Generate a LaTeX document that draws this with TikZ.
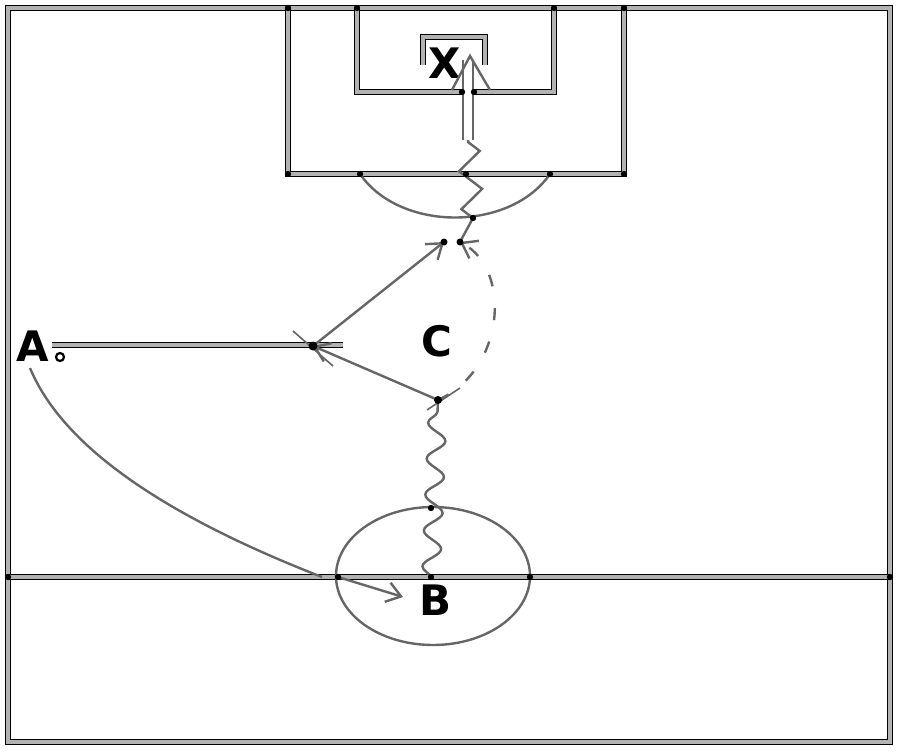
\documentclass[tikz,border=0pt]{standalone}
\usepackage{fontspec}
\setmainfont{DejaVu Sans}
\usetikzlibrary{arrows.meta,decorations.pathmorphing}
\begin{document}
\begin{tikzpicture}[x=1pt,y=-1pt,
 fieldline/.style={draw=black, line width=1.1pt, double=gray!60, double distance=3.4pt},
 shotline/.style={draw=black!60, line width=2.4pt, double=white, double distance=8pt},
 runline/.style={draw=black!60, line width=2.4pt},
 lbl/.style={font=\fontsize{42}{42}\selectfont\bfseries, inner sep=0pt},
 tipbarb/.style={-{Straight Barb[length=14pt,width=20pt]}},
 jdot/.style={black},
]
\useasboundingbox (0,0) rectangle (900,752);
% field
\draw[fieldline] (8,8) rectangle (890,742);
\draw[fieldline] (8,577) -- (890,577);
\draw[fieldline] (288,8) -- (288,174) -- (624,174) -- (624,8);
\draw[fieldline] (357,8) -- (357,92) -- (554,92) -- (554,8);
\draw[fieldline] (423,65) -- (423,37) -- (485,37) -- (485,65);
\draw[runline] (360,174) .. controls (400,232) and (510,232) .. (550,174);
\draw[runline] (433,576) ellipse [x radius=97, y radius=69];
% labels
\node[lbl] (A) at (33,346) {A};
\node[lbl] (C) at (437,341) {C};
\node[lbl] (B) at (436,600) {B};
\node[lbl] (X) at (445,63) {X};
\node[circle, draw=black, line width=2.2pt, inner sep=0pt, minimum size=8pt] (ao) at (60,357) {};
% points
\coordinate (a0) at (52,345);
\coordinate (a9) at (343,345);
\coordinate (p1) at (313,346);
\coordinate (p2) at (438,400);
\coordinate (p3) at (444,242);
\coordinate (p4) at (460,242);
\coordinate (p5) at (473,218);
\coordinate (p6) at (468,140);
\coordinate (p7) at (468,60);
\coordinate (pt) at (470,56);
\coordinate (s1) at (452,90);
\coordinate (s2) at (490,90);
\coordinate (b0) at (431,578);
\coordinate (e1) at (338,577);
\coordinate (e2) at (403,597);
\coordinate (a1) at (30,368);
\coordinate (a2) at (322,577);
\coordinate (c1) at (293,331);
\coordinate (c2) at (333,366);
\coordinate (t1) at (427,410);
\coordinate (t2) at (460,388);
% movements
\draw[fieldline] (a0) -- (a9);
\draw[runline] (a1) .. controls (60,440) and (150,510) .. (a2);
\draw[runline, tipbarb] (e1) -- (e2);
\draw[runline, decorate, decoration={snake, segment length=36pt, amplitude=9pt}] (b0) -- (p2);
\draw[runline, line width=1.6pt] (t1) -- (t2);
\draw[runline, tipbarb] (p2) -- (p1);
\draw[runline, line width=1.6pt] (c1) -- (c2);
\draw[runline, tipbarb] (p1) -- (p3);
\draw[runline, dash pattern=on 12pt off 22pt, tipbarb] (p2) .. controls (505,370) and (512,270) .. (p4);
\draw[runline] (p4) -- (p5);
\draw[runline, decorate, decoration={zigzag, segment length=38pt, amplitude=11pt}] (p5) -- (p6);
\draw[shotline] (p6) -- (p7);
\draw[runline] (s1) -- (pt) -- (s2);
% junction dots
\foreach \p in {(288,8),(357,8),(554,8),(624,8),(8,577),(890,577),(288,174),(624,174),(360,174),(550,174),(473,218),(338,577),(530,577),(431,508),(431,577),(462,92),(474,92),(466,174)}
  \fill[jdot] \p circle (3.2pt);
\fill[jdot] (p1) circle (4.5pt);
\fill[jdot] (p2) circle (4pt);
\fill[jdot] (p3) circle (3.5pt);
\fill[jdot] (p4) circle (3.5pt);
\end{tikzpicture}
\end{document}
